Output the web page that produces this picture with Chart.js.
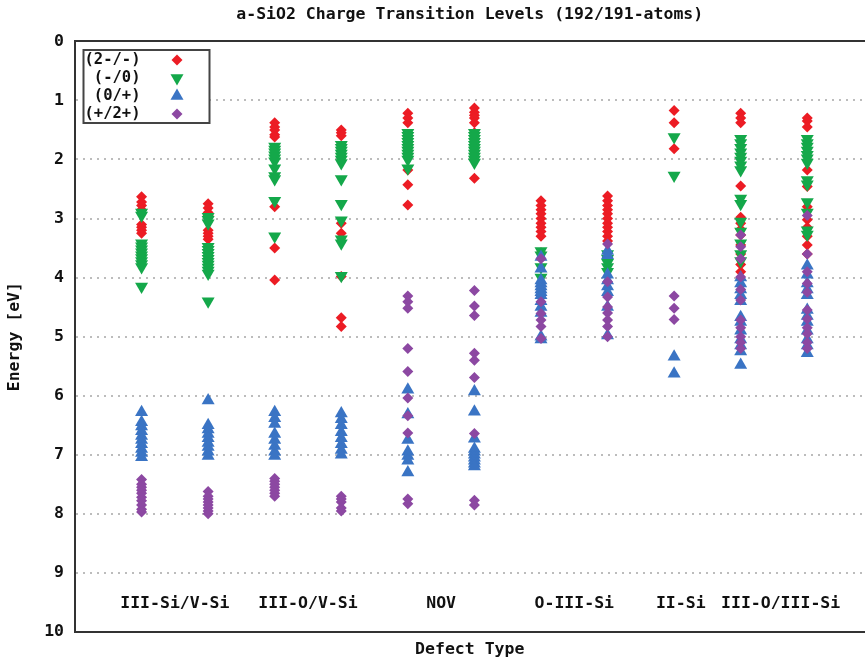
<!DOCTYPE html>
<html><head><meta charset="utf-8">
<script src="https://cdn.jsdelivr.net/npm/chart.js@4/dist/chart.umd.min.js"></script>
<style>html,body{margin:0;padding:0;background:#fff;overflow:hidden;width:865px;height:661px}canvas{display:block}</style>
</head><body>
<canvas id="c" width="872" height="661"></canvas>
<script>
// ---- data ----
const chartTitle = 'a-SiO2 Charge Transition Levels (192/191-atoms)';
const categories = ['III-Si/V-Si', 'III-O/V-Si', 'NOV', 'O-III-Si', 'II-Si', 'III-O/III-Si'];
const categoryTickAt = [1.5, 3.5, 5.5, 7.5, 9.1, 10.6];
const columns = [1, 2, 3, 4, 5, 6, 7, 8, 9, 10, 11];
const seriesLabels = ['(2-/-)', '(-/0)', '(0/+)', '(+/2+)'];

// (2-/-) levels per column [eV]
const level2mm = [
  [2.63, 2.72, 2.78, 2.85, 3.1, 3.15, 3.2, 3.25],
  [2.75, 2.82, 2.9, 2.95, 3.2, 3.25, 3.3, 3.35],
  [1.38, 1.45, 1.5, 1.58, 1.62, 2.8, 3.5, 4.04],
  [1.5, 1.55, 1.6, 3.08, 3.25, 3.98, 4.68, 4.83],
  [1.22, 1.3, 1.38, 2.18, 2.43, 2.77],
  [1.13, 1.2, 1.25, 1.3, 1.38, 1.55, 2.32],
  [2.7, 2.78, 2.85, 2.92, 3.0, 3.08, 3.15, 3.22, 3.3, 3.58],
  [2.62, 2.7, 2.78, 2.85, 2.92, 3.0, 3.08, 3.15, 3.22, 3.3, 3.38],
  [1.17, 1.38, 1.82],
  [1.22, 1.3, 1.38, 2.45, 2.98, 3.08, 3.18, 3.28, 3.45, 3.6, 3.78, 3.9],
  [1.3, 1.35, 1.45, 2.18, 2.46, 2.8, 3.02, 3.15, 3.3, 3.45, 3.6]
];
// (-/0)
const levelm0 = [
  [2.9, 2.95, 3.42, 3.47, 3.52, 3.57, 3.62, 3.67, 3.72, 3.77, 3.82, 4.15],
  [2.97, 3.02, 3.08, 3.48, 3.53, 3.58, 3.63, 3.68, 3.73, 3.78, 3.83, 3.88, 3.93, 4.4],
  [1.78, 1.83, 1.88, 1.93, 1.98, 2.03, 2.15, 2.28, 2.33, 2.7, 3.3],
  [1.75, 1.8, 1.85, 1.9, 1.95, 2.0, 2.06, 2.33, 2.75, 3.03, 3.35, 3.42, 3.97],
  [1.55, 1.6, 1.65, 1.7, 1.75, 1.8, 1.85, 1.9, 1.95, 2.0, 2.15],
  [1.55, 1.6, 1.65, 1.7, 1.75, 1.8, 1.85, 1.9, 1.95, 2.0, 2.05],
  [3.55, 3.62, 3.82, 4.0],
  [3.6, 3.68, 3.75, 3.82, 3.9],
  [1.62, 2.27],
  [1.65, 1.72, 1.8, 1.88, 1.95, 2.02, 2.1, 2.18, 2.66, 2.75, 3.05, 3.22, 3.42, 3.6, 3.72],
  [1.65, 1.72, 1.78, 1.85, 1.92, 1.98, 2.05, 2.35, 2.42, 2.72, 2.9, 3.2, 3.27]
];
// (0/+)
const level0p = [
  [6.28, 6.45, 6.52, 6.6, 6.68, 6.75, 6.82, 6.9, 6.97, 7.04],
  [6.08, 6.5, 6.57, 6.65, 6.72, 6.8, 6.87, 6.95, 7.02],
  [6.28, 6.38, 6.48, 6.65, 6.75, 6.85, 6.95, 7.02],
  [6.3, 6.4, 6.5, 6.62, 6.72, 6.82, 6.92, 7.0],
  [5.9, 6.32, 6.75, 6.95, 7.02, 7.1, 7.3],
  [5.93, 6.27, 6.73, 6.9, 6.95, 7.0, 7.05, 7.1, 7.15, 7.2],
  [3.65, 3.85, 4.05, 4.1, 4.15, 4.2, 4.25, 4.3, 4.4, 4.5, 4.6, 5.0, 5.05],
  [3.55, 3.62, 3.95, 4.05, 4.15, 4.25, 4.5, 4.98],
  [5.34, 5.63],
  [4.0, 4.1, 4.2, 4.3, 4.4, 4.67, 4.75, 4.9, 5.05, 5.15, 5.25, 5.48],
  [3.8, 3.95, 4.1, 4.2, 4.3, 4.55, 4.65, 4.75, 4.9, 5.05, 5.15, 5.28]
];
// (+/2+)
const levelp2p = [
  [7.42, 7.5, 7.55, 7.6, 7.65, 7.72, 7.78, 7.85, 7.92, 7.97],
  [7.62, 7.7, 7.75, 7.8, 7.85, 7.9, 7.95, 8.0],
  [7.4, 7.45, 7.5, 7.55, 7.6, 7.65, 7.7],
  [7.7, 7.75, 7.8, 7.9, 7.95],
  [4.31, 4.41, 4.52, 5.2, 5.59, 6.04, 6.34, 6.63, 7.75, 7.83],
  [4.22, 4.48, 4.64, 5.28, 5.4, 5.69, 6.64, 7.77, 7.85],
  [3.68, 4.41, 4.61, 4.72, 4.83, 5.03],
  [3.43, 4.07, 4.33, 4.5, 4.6, 4.72, 4.83, 5.0],
  [4.31, 4.52, 4.71],
  [3.28, 3.48, 3.68, 3.99, 4.2, 4.38, 4.72, 4.85, 5.0, 5.1, 5.2],
  [2.95, 3.6, 3.9, 4.1, 4.25, 4.55, 4.7, 4.85, 4.95, 5.1, 5.2]
];

// ---- build ----
function toPoints(perColumn) {
  const pts = [];
  perColumn.forEach((vals, i) => vals.forEach(v => pts.push({ x: columns[i], y: v })));
  return pts;
}
const FONT = '"DejaVu Sans Mono", "Liberation Mono", monospace';
const font = { family: FONT, size: 16.5, weight: 'bold' };
const TXT = '#111';

const styles = [
  { color: '#ec1c24', pointStyle: 'rectRot', radius: 5.5, rotation: 0 },
  { color: '#14a84a', pointStyle: 'triangle', radius: 7.5, rotation: 180 },
  { color: '#3a74c4', pointStyle: 'triangle', radius: 7.5, rotation: 0 },
  { color: '#8c48a2', pointStyle: 'rectRot', radius: 5.5, rotation: 0 }
];
const seriesData = [level2mm, levelm0, level0p, levelp2p];

const datasets = seriesData.map((d, i) => ({
  label: seriesLabels[i],
  data: toPoints(d),
  backgroundColor: styles[i].color,
  borderColor: styles[i].color,
  pointBackgroundColor: styles[i].color,
  pointBorderWidth: 0,
  pointStyle: styles[i].pointStyle,
  pointRadius: styles[i].radius,
  pointRotation: styles[i].rotation,
  showLine: false,
  order: 3 - i
}));

const legendBox = {
  id: 'legendBox',
  afterDatasetsDraw(chart) {
    const ctx = chart.ctx, a = chart.chartArea;
    const x0 = a.left + 8.5, y0 = a.top + 8.7, w = 126, h = 73;
    ctx.save();
    ctx.fillStyle = '#fff';
    ctx.fillRect(x0, y0, w, h);
    ctx.strokeStyle = '#444';
    ctx.lineWidth = 2;
    ctx.strokeRect(x0, y0, w, h);
    ctx.font = 'bold 15.5px ' + FONT;
    ctx.textAlign = 'right';
    ctx.textBaseline = 'middle';
    chart.data.datasets.forEach((ds, i) => {
      const yy = y0 + 10 + i * 18;
      ctx.fillStyle = TXT;
      ctx.fillText(ds.label, x0 + 57, yy);
      ctx.fillStyle = ds.pointBackgroundColor;
      Chart.helpers.drawPoint(ctx, {
        pointStyle: ds.pointStyle, radius: ds.pointRadius,
        rotation: ds.pointRotation, borderWidth: 0
      }, x0 + 93.5, yy);
    });
    ctx.restore();
  }
};

const noPad = s => { s.paddingLeft = 0; s.paddingRight = 0; };

new Chart(document.getElementById('c'), {
  type: 'scatter',
  data: { datasets },
  plugins: [legendBox],
  options: {
    responsive: false,
    animation: false,
    devicePixelRatio: 1,
    events: [],
    layout: { padding: 0 },
    plugins: {
      legend: { display: false },
      tooltip: { enabled: false },
      title: {
        display: true, text: chartTitle, fullSize: false,
        font, color: TXT, padding: { top: 5, bottom: 16.5 }
      }
    },
    scales: {
      x: {
        type: 'linear', position: { y: 9.3 }, min: 0, max: 11.86,
        afterBuildTicks: s => { s.ticks = categoryTickAt.map(v => ({ value: v })); },
        afterFit: noPad,
        ticks: {
          autoSkip: false, maxRotation: 0, minRotation: 0, padding: 3,
          font, color: TXT, callback: (v, i) => categories[i]
        },
        grid: { display: false, drawTicks: false },
        border: { display: false }
      },
      x2: {
        type: 'linear', position: 'bottom', min: 0, max: 1,
        ticks: { display: false },
        grid: { display: false, drawTicks: false },
        border: { display: true, color: '#333', width: 2 },
        title: { display: true, text: 'Defect Type', font, color: TXT, padding: { top: 0, bottom: 1 } },
        afterFit: s => { s.height = 29; noPad(s); }
      },
      x3: {
        type: 'linear', position: 'top', min: 0, max: 1,
        ticks: { display: false },
        grid: { display: false, drawTicks: false },
        border: { display: true, color: '#333', width: 2 },
        afterFit: s => { s.height = 0; noPad(s); }
      },
      y: {
        type: 'linear', position: 'left', reverse: true, min: 0, max: 10,
        ticks: { stepSize: 1, padding: 11, font, color: TXT },
        grid: {
          drawTicks: false, lineWidth: 2,
          color: c => (c.tick && (c.tick.value === 0 || c.tick.value === 10)) ? 'rgba(0,0,0,0)' : '#bcbcbc'
        },
        border: { display: true, color: '#333', width: 2, dash: [2, 5] },
        title: { display: true, text: 'Energy [eV]', font, color: TXT, padding: { top: 5, bottom: 0 } },
        afterFit: s => { s.width = 75; noPad(s); }
      }
    }
  }
});
</script>
</body></html>
